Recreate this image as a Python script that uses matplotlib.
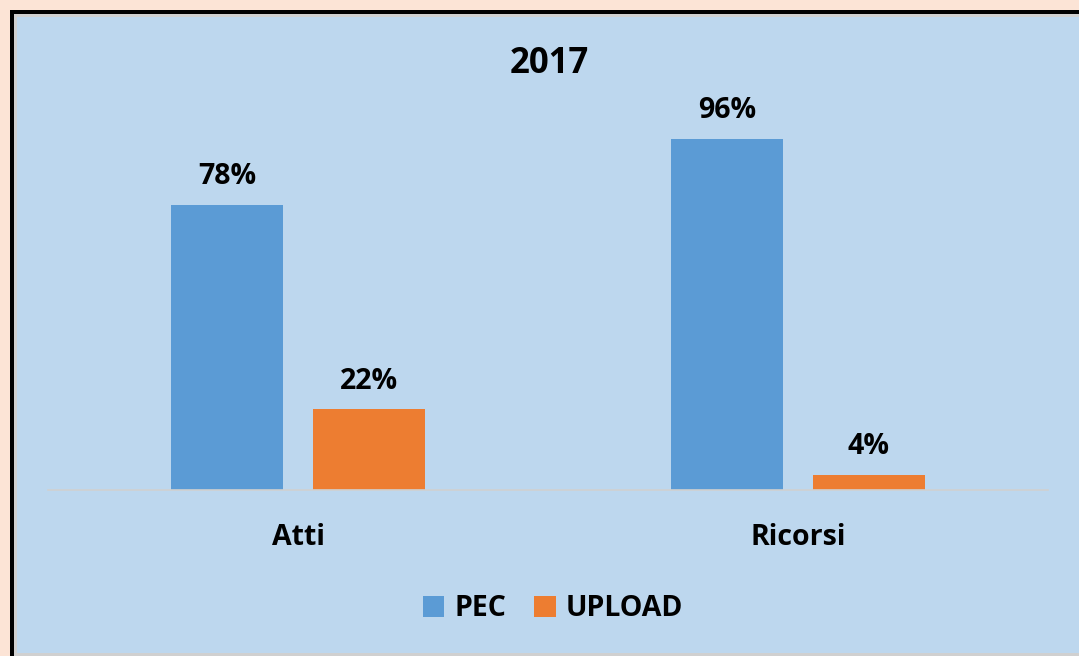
import matplotlib.pyplot as plt
from matplotlib.patches import Rectangle
import numpy as np

categories = ["Atti", "Ricorsi"]
pec = [78, 96]
upload = [22, 4]
series_names = ["PEC", "UPLOAD"]
title = "2017"

plt.rcParams["font.family"] = ["Open Sans", "DejaVu Sans"]

W, H = 1079, 656
fig = plt.figure(figsize=(W / 100, H / 100), dpi=100)
fig.patch.set_facecolor("#FCE4D6")

# frame: black border, thin gray line, light blue fill
def px_rect(x0, y0, x1, y1, color):
    fig.patches.append(Rectangle((x0 / W, 1 - y1 / H), (x1 - x0) / W, (y1 - y0) / H,
                                 transform=fig.transFigure, facecolor=color,
                                 edgecolor="none", zorder=-10))

px_rect(10, 10, W + 5, H + 5, "#000000")
px_rect(14, 14, W + 5, H + 5, "#D0D0D0")
px_rect(17, 17, W + 5, H - 3, "#BDD7EE")

ax = fig.add_axes([48 / W, (H - 490) / H, 1000 / W, 400 / H])
ax.set_facecolor("none")
ax.set_zorder(5)

fs = 20.5
x = np.arange(len(categories))
w = 0.224
off = 0.142
b1 = ax.bar(x - off, pec, w, color="#5B9BD5", label=series_names[0])
b2 = ax.bar(x + off, upload, w, color="#ED7D31", label=series_names[1])

for bars in (b1, b2):
    for r in bars:
        ax.annotate(f"{r.get_height():.0f}%", (r.get_x() + r.get_width() / 2, r.get_height()),
                    xytext=(0, 10), textcoords="offset points", ha="center", va="bottom",
                    fontsize=fs, fontweight="bold", color="#000000")

ax.set_xlim(-0.5, 1.5)
ax.set_ylim(0, 109.3)
ax.set_yticks([])
ax.set_xticks(x)
ax.set_xticklabels(categories, fontsize=fs, fontweight="bold")
ax.tick_params(axis="x", length=0, pad=24)
for s in ["top", "right", "left"]:
    ax.spines[s].set_visible(False)
ax.spines["bottom"].set_color("#D0D0D0")
ax.spines["bottom"].set_linewidth(1.2)

fig.text(549 / W, 1 - 64 / H, title, ha="center", va="center", fontsize=25, fontweight="bold")

leg = fig.legend(loc="center", bbox_to_anchor=(553 / W, 1 - 609 / H), ncol=2, frameon=False,
                 prop={"size": fs, "weight": "bold"}, handlelength=0.75, handleheight=0.75,
                 handletextpad=0.35, columnspacing=1.0)

fig.savefig("out.png", dpi=100, facecolor=fig.get_facecolor())
